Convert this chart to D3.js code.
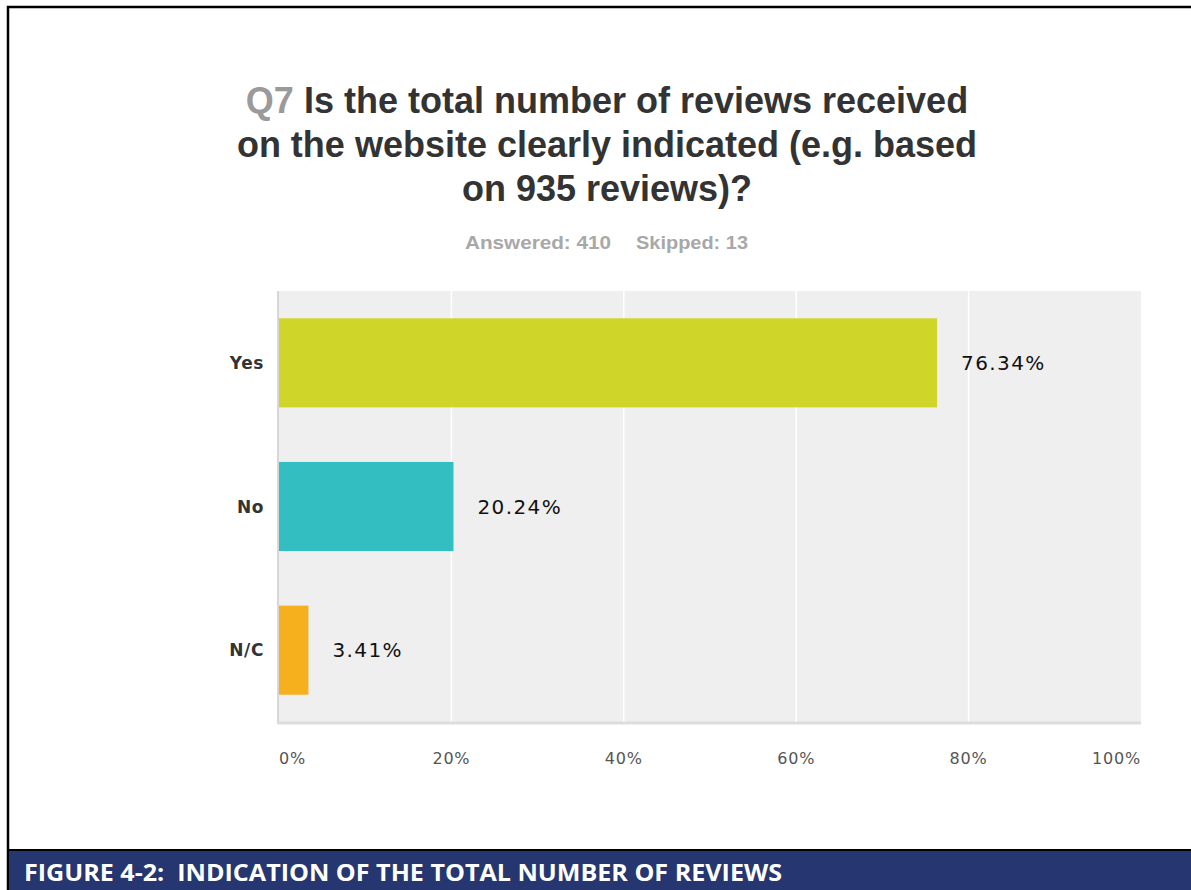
<!DOCTYPE html>
<html lang="en">
<head>
    <meta charset="UTF-8">
    <title>Q7 Total number of reviews</title>
    <script src="https://d3js.org/d3.v7.min.js"></script>
    <style>
        body {
            margin: 0;
            padding: 0;
            background: #ffffff;
            overflow: hidden;
        }
        .title { font-family: 'Liberation Sans', Arial, sans-serif; font-weight: 700; font-size: 36px; fill: #333333; }
        .qnum { fill: #9a9a9a; }
        .sub { font-family: 'Liberation Sans', Arial, sans-serif; font-weight: 700; font-size: 18px; fill: #a8a8a8; }
        .cat { font-family: 'DejaVu Sans', Verdana, sans-serif; font-weight: 700; font-size: 17px; letter-spacing: 0.6px; fill: #333333; }
        .val { font-family: 'DejaVu Sans', Verdana, sans-serif; font-size: 20px; letter-spacing: 1.4px; fill: #111111; }
        .tick-label { font-family: 'DejaVu Sans', Verdana, sans-serif; font-size: 16px; letter-spacing: 0.8px; fill: #555555; }
        .caption { font-family: 'Open Sans', sans-serif; font-weight: 700; font-size: 24px; fill: #ffffff; }
    </style>
</head>
<body>
<div id="chart"></div>
<script>
    const categories = ["Yes", "No", "N/C"];
    const percents = [76.34, 20.24, 3.41];
    const barColors = ["#cfd529", "#33bec1", "#f7b01d"];
    const tickValues = [0, 20, 40, 60, 80, 100];

    const width = 1191, height = 890;
    const plot = {left: 278, right: 1141, top: 291, bottom: 722};

    const svg = d3.select("#chart").append("svg")
        .attr("width", width)
        .attr("height", height);

    // frame
    svg.append("rect").attr("x", 8).attr("y", 7).attr("width", width + 10).attr("height", height)
        .attr("fill", "none").attr("stroke", "#000").attr("stroke-width", 2.5);

    // title
    const titleLines = [
        ["Q7", " Is the total number of reviews received"],
        [null, "on the website clearly indicated (e.g. based"],
        [null, "on 935 reviews)?"]
    ];
    titleLines.forEach((ln, i) => {
        const t = svg.append("text").attr("class", "title")
            .attr("x", 607).attr("y", 113 + i * 44)
            .attr("text-anchor", "middle")
            .attr("xml:space", "preserve");
        if (ln[0]) t.append("tspan").attr("class", "qnum").text(ln[0]);
        t.append("tspan").text(ln[1]);
    });

    svg.append("text").attr("class", "sub")
        .attr("x", 538).attr("y", 249).attr("text-anchor", "middle")
        .attr("textLength", 146).attr("lengthAdjust", "spacingAndGlyphs")
        .text("Answered: 410");
    svg.append("text").attr("class", "sub")
        .attr("x", 692).attr("y", 249).attr("text-anchor", "middle")
        .attr("textLength", 112).attr("lengthAdjust", "spacingAndGlyphs")
        .text("Skipped: 13");

    const x = d3.scaleLinear().domain([0, 100]).range([plot.left + 1, plot.right]);
    const y = d3.scaleBand().domain(categories).range([plot.top, plot.bottom]).paddingInner(0.38).paddingOuter(0.19);

    // plot background
    svg.append("rect")
        .attr("x", plot.left).attr("y", plot.top)
        .attr("width", plot.right - plot.left).attr("height", plot.bottom - plot.top)
        .attr("fill", "#efefef");

    // gridlines
    svg.append("g").selectAll("line")
        .data(tickValues.slice(1, -1))
        .enter().append("line")
        .attr("x1", d => x(d)).attr("x2", d => x(d))
        .attr("y1", plot.top).attr("y2", plot.bottom)
        .attr("stroke", "#ffffff").attr("stroke-width", 1.5);

    // axis lines
    svg.append("line")
        .attr("x1", plot.left).attr("x2", plot.left)
        .attr("y1", plot.top).attr("y2", plot.bottom + 2)
        .attr("stroke", "#cccccc").attr("stroke-width", 1.5);
    svg.append("line")
        .attr("x1", plot.left).attr("x2", plot.right)
        .attr("y1", plot.bottom + 1).attr("y2", plot.bottom + 1)
        .attr("stroke", "#dddddd").attr("stroke-width", 3);

    // bars
    svg.append("g").selectAll("rect")
        .data(categories)
        .enter().append("rect")
        .attr("x", x(0))
        .attr("y", d => y(d))
        .attr("width", (d, i) => x(percents[i]) - x(0))
        .attr("height", y.bandwidth())
        .attr("fill", (d, i) => barColors[i]);

    // value labels
    svg.append("g").selectAll("text")
        .data(categories)
        .enter().append("text")
        .attr("class", "val")
        .attr("x", (d, i) => x(percents[i]) + 24)
        .attr("y", d => y(d) + y.bandwidth() / 2 + 7)
        .text((d, i) => percents[i].toFixed(2) + "%");

    // category labels
    svg.append("g").selectAll("text")
        .data(categories)
        .enter().append("text")
        .attr("class", "cat")
        .attr("x", 264)
        .attr("y", d => y(d) + y.bandwidth() / 2 + 6)
        .attr("text-anchor", "end")
        .text(d => d);

    // x tick labels
    svg.append("g").selectAll("text")
        .data(tickValues)
        .enter().append("text")
        .attr("class", "tick-label")
        .attr("x", d => x(d))
        .attr("y", 764)
        .attr("text-anchor", (d, i) => i === 0 ? "start" : (i === tickValues.length - 1 ? "end" : "middle"))
        .text(d => d + "%");

    // caption band
    svg.append("rect").attr("x", 9).attr("y", 849).attr("width", width).attr("height", 2.5).attr("fill", "#000");
    svg.append("rect").attr("x", 9).attr("y", 851).attr("width", width).attr("height", 40).attr("fill", "#253670");
    svg.append("text").attr("class", "caption")
        .attr("x", 24).attr("y", 881)
        .attr("xml:space", "preserve")
        .attr("textLength", 758).attr("lengthAdjust", "spacingAndGlyphs")
        .text("FIGURE 4-2:  INDICATION OF THE TOTAL NUMBER OF REVIEWS");
</script>
</body>
</html>
